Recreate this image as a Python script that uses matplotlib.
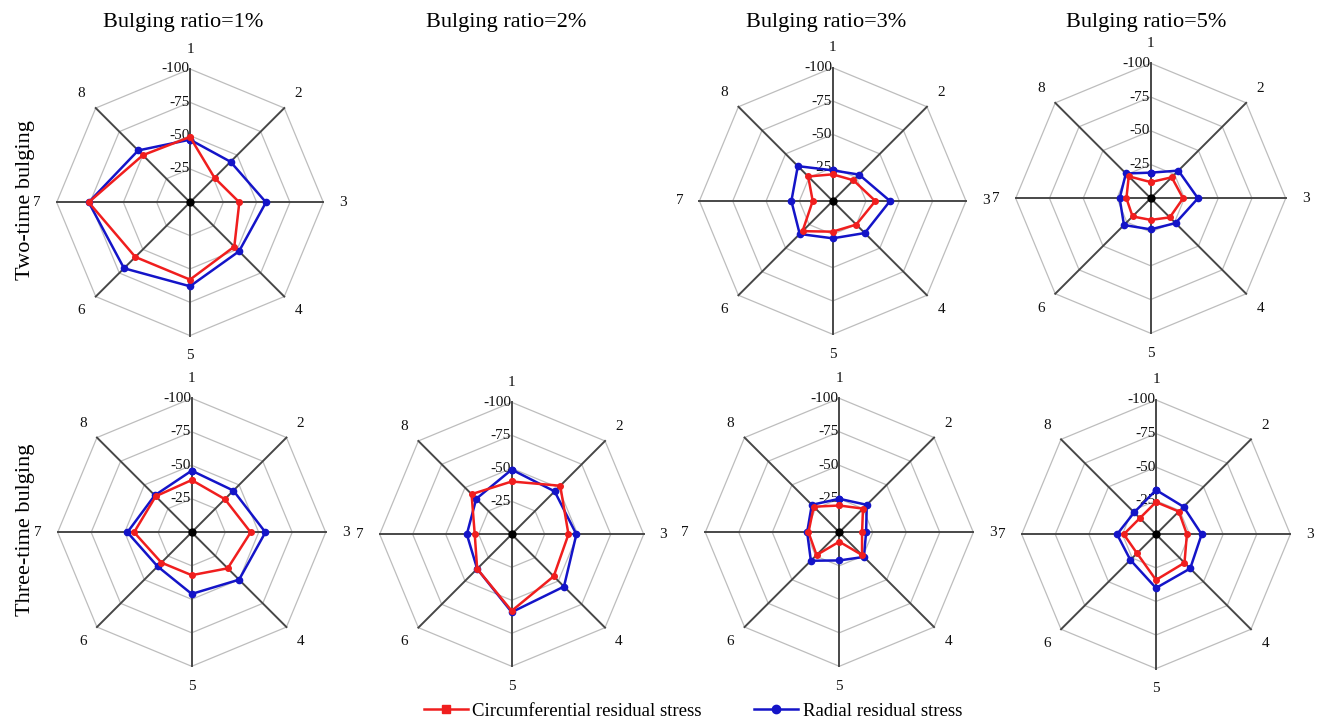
import numpy as np
import matplotlib
matplotlib.use("Agg")
import matplotlib.pyplot as plt
from matplotlib.lines import Line2D

plt.rcParams['font.family'] = ['Liberation Serif', 'DejaVu Serif']

# ---------------- data ----------------
directions = ['1', '2', '3', '4', '5', '6', '7', '8']
ring_values = [-25, -50, -75, -100]
column_titles = ['Bulging ratio=1%', 'Bulging ratio=2%', 'Bulging ratio=3%', 'Bulging ratio=5%']
row_titles = ['Two-time bulging', 'Three-time bulging']
series_names = ['Circumferential residual stress', 'Radial residual stress']

two_1_circ = [-49, -26, -37, -47, -58, -58, -76, -50]
two_1_rad = [-47, -43, -57, -52, -63, -70, -76, -55]
two_3_circ = [-20, -22, -32, -25, -23, -32, -15, -26]
two_3_rad = [-23, -28, -43, -34, -28, -35, -31, -37]
two_5_circ = [-12, -22, -24, -20, -16, -19, -18, -23]
two_5_rad = [-19, -29, -35, -26, -23, -28, -23, -26]

three_1_circ = [-39, -35, -44, -38, -32, -32, -43, -38]
three_1_rad = [-46, -44, -55, -50, -46, -36, -48, -39]
three_2_circ = [-40, -52, -43, -45, -58, -37, -28, -43]
three_2_rad = [-49, -46, -49, -56, -59, -37, -34, -38]
three_3_circ = [-20, -25, -17, -24, -7, -24, -23, -27]
three_3_rad = [-25, -29, -20, -26, -21, -30, -24, -29]
three_5_circ = [-24, -24, -23, -30, -34, -20, -24, -17]
three_5_rad = [-33, -29, -34, -36, -40, -27, -29, -23]

# ---------------- layout ----------------
W, H = 1319, 722
fig = plt.figure(figsize=(W / 100, H / 100), dpi=100)

RED = '#f01e1e'
BLUE = '#1414c8'
SPOKE = '#474747'
RING = '#bdbdbd'

# (center x px, center y px, outer radius px, circ data, radial data)
panels = [
    (190.0, 202.3, 133.3, two_1_circ, two_1_rad),
    (832.7, 201.0, 133.3, two_3_circ, two_3_rad),
    (1150.7, 198.3, 135.0, two_5_circ, two_5_rad),
    (191.7, 532.3, 134.0, three_1_circ, three_1_rad),
    (511.7, 534.3, 132.0, three_2_circ, three_2_rad),
    (839.3, 532.3, 134.0, three_3_circ, three_3_rad),
    (1156.0, 534.3, 134.3, three_5_circ, three_5_rad),
]

n = len(directions)
theta = np.arange(n) * 2 * np.pi / n
theta_closed = np.append(theta, theta[0])


def closed(vals):
    v = np.abs(np.asarray(vals, dtype=float))
    return np.append(v, v[0])


for cx, cy, R, circ, rad in panels:
    ax = fig.add_axes([(cx - R) / W, 1 - (cy + R) / H, 2 * R / W, 2 * R / H],
                      projection='polar')
    ax.set_theta_zero_location('N')
    ax.set_theta_direction(-1)
    ax.set_ylim(0, 100)
    ax.grid(False)
    ax.set_xticks([])
    ax.set_yticks([])
    ax.spines['polar'].set_visible(False)
    ax.patch.set_alpha(0)

    # octagonal rings
    for rv in ring_values:
        ax.plot(theta_closed, np.full(n + 1, abs(rv)), color=RING, lw=0.9,
                zorder=1, clip_on=False)
    # spokes
    for t in theta:
        ax.plot([t, t], [0, 100], color=SPOKE, lw=1.4, zorder=2, clip_on=False)
    # ring value labels along spoke 1
    for rv in ring_values:
        ax.annotate(str(rv), xy=(0, abs(rv)), xytext=(-0.5, 0),
                    textcoords='offset points', ha='right', va='center',
                    fontsize=11, color='#111111', zorder=3)
    # direction labels
    for t, lab in zip(theta, directions):
        ax.text(t, 115, lab, ha='center', va='center', fontsize=11,
                color='#111111', clip_on=False)

    ax.plot(theta_closed, closed(rad), color=BLUE, lw=1.8, marker='o', ms=4.5,
            zorder=4, clip_on=False)
    ax.plot(theta_closed, closed(circ), color=RED, lw=1.8, marker='o', ms=4,
            zorder=5, clip_on=False)
    ax.plot([0], [0], marker='o', color='black', ms=5, zorder=6)

# column titles
title_x = [183.5, 506.0, 826.0, 1146.0]
for x, t in zip(title_x, column_titles):
    fig.text(x / W, 1 - 22 / H, t, ha='center', va='center', fontsize=16)

# row titles
row_y = [200.0, 530.0]
for y, t in zip(row_y, row_titles):
    fig.text(26 / W, 1 - y / H, t, ha='center', va='center', rotation=90,
             fontsize=16)

handles = [
    Line2D([], [], color=RED, lw=1.8, marker='s', ms=6),
    Line2D([], [], color=BLUE, lw=1.8, marker='o', ms=6),
]
fig.legend(handles, series_names, loc='center', ncol=2,
           bbox_to_anchor=(693 / W, 1 - 711 / H), frameon=False,
           fontsize=13.5, handlelength=2.35, handletextpad=0.25,
           columnspacing=2.8, borderpad=0, borderaxespad=0)

fig.savefig('out.png', dpi=100)
